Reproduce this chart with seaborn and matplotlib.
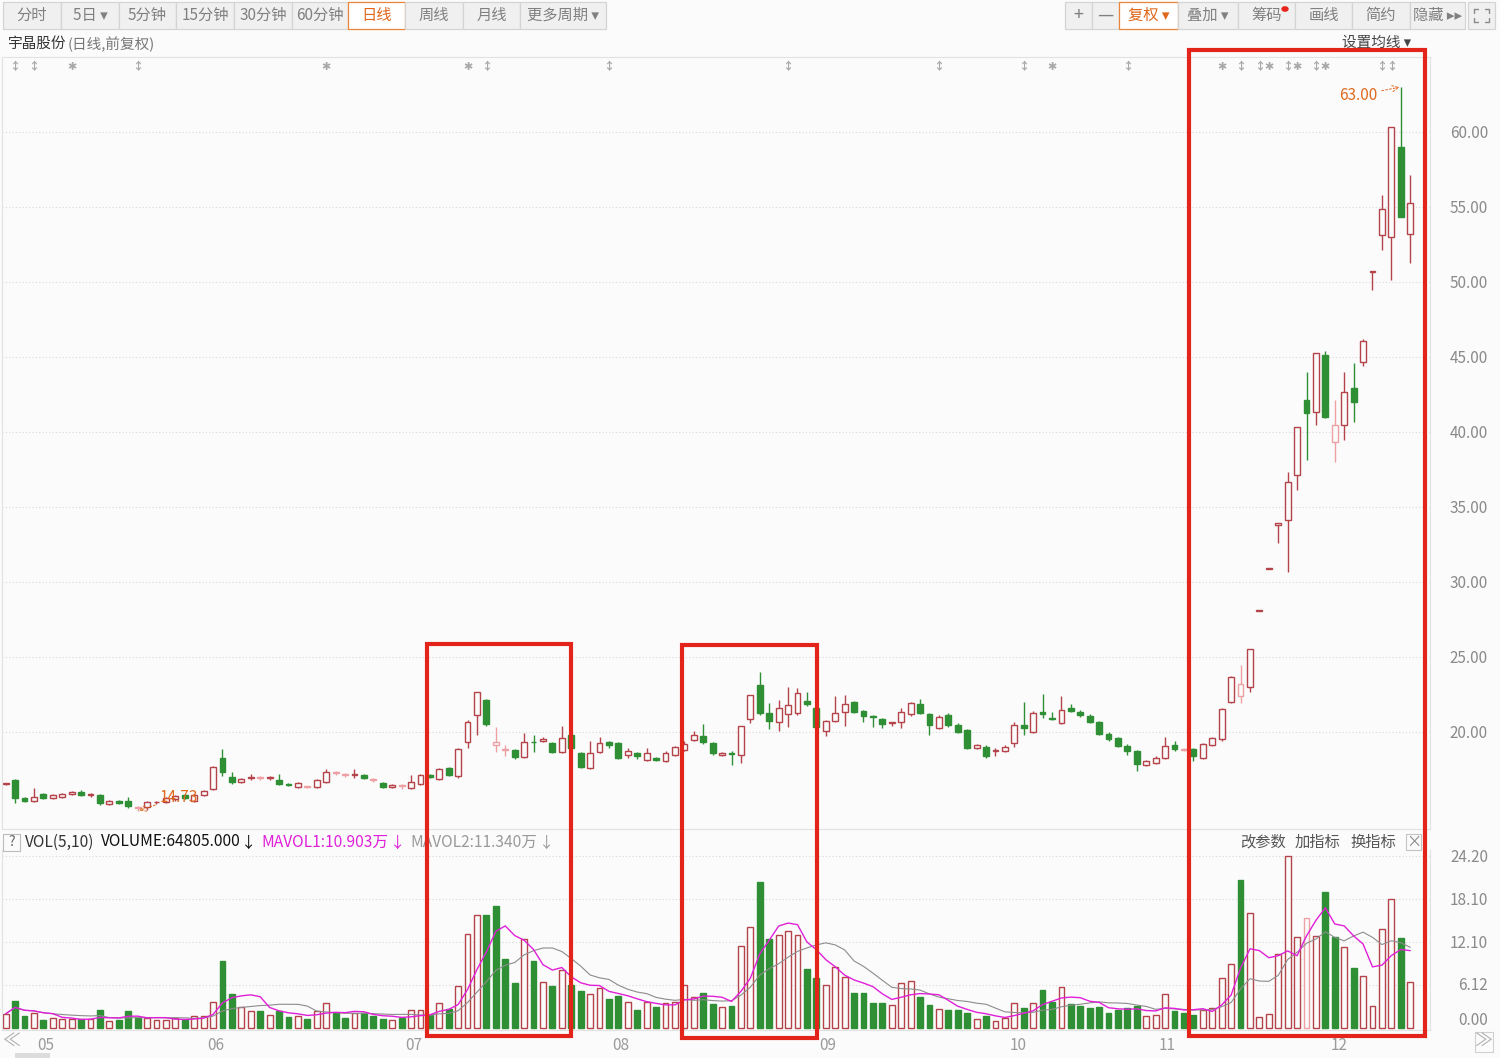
import numpy as np
import pandas as pd
import matplotlib
matplotlib.use("Agg")
import matplotlib.pyplot as plt
import matplotlib.transforms as mtrans
from matplotlib.patches import Rectangle
from matplotlib.lines import Line2D
import seaborn as sns

# ---------------- data (daily, 前复权) ----------------
opens = [16.53,16.8,15.6,15.4,15.87,15.6,15.67,15.87,16.0,15.8,
 15.8,15.2,15.4,15.4,14.9,15.0,15.3,15.33,15.5,15.8,
 15.4,15.8,16.2,18.27,17.0,16.67,16.9,16.93,16.9,16.8,
 16.5,16.33,16.33,16.33,16.67,17.27,17.13,17.1,17.13,16.8,
 16.6,16.33,16.4,16.27,16.53,17.13,16.87,17.6,17.07,19.33,
 21.13,22.13,19.13,18.8,18.8,18.33,19.35,19.4,19.27,18.67,
 19.8,18.6,17.6,18.67,19.33,19.27,18.47,18.6,18.13,18.27,
 18.07,18.47,18.8,19.47,19.73,19.27,18.47,18.62,18.47,20.87,
 23.13,21.27,20.67,21.2,21.27,22.07,21.6,20.07,20.73,21.33,
 22.0,21.4,21.07,20.87,20.6,20.67,21.2,21.87,21.2,20.27,
 21.13,20.47,20.13,18.93,19.0,18.73,18.73,19.27,20.47,20.0,
 21.3,20.93,20.6,21.6,21.33,21.07,20.67,19.87,19.6,19.07,
 18.73,17.8,17.93,18.27,19.13,18.8,18.87,18.27,19.13,19.53,
 22.0,22.4,23.0,28.07,30.87,33.8,34.13,37.13,42.13,41.33,
 45.13,39.33,40.47,42.93,44.67,50.68,53.13,53.0,59.0,53.2]
closes = [16.53,15.6,15.4,15.67,15.6,15.8,15.87,16.0,15.8,15.8,
 15.27,15.4,15.27,15.07,15.0,15.33,15.33,15.6,15.7,15.6,
 15.8,16.07,17.67,17.33,16.67,16.87,17.0,16.93,16.97,16.53,
 16.47,16.6,16.33,16.8,17.33,17.27,17.13,17.2,16.93,16.8,
 16.33,16.47,16.4,16.67,17.13,17.0,17.53,17.13,18.87,20.67,
 22.67,20.53,19.33,18.8,18.33,19.33,19.3,19.53,18.67,19.6,
 18.93,17.67,18.6,19.27,19.13,18.27,18.73,18.4,18.6,18.13,
 18.6,19.0,19.2,19.8,19.33,18.6,18.6,18.55,20.4,22.47,
 21.27,20.73,21.6,21.8,22.6,21.87,20.33,20.73,21.27,21.87,
 21.33,21.07,21.0,20.53,20.6,21.33,21.93,21.27,20.47,21.0,
 20.47,20.0,18.93,19.13,18.4,18.73,19.0,20.47,20.27,21.27,
 21.2,20.87,21.47,21.4,21.13,20.67,19.87,19.53,19.07,18.73,
 17.87,18.07,18.27,19.07,18.87,18.8,18.4,19.2,19.6,21.53,
 23.67,23.2,25.53,28.07,30.87,33.96,36.67,40.33,41.27,45.27,
 41.0,40.47,42.67,42.0,46.07,50.68,54.87,60.3,54.33,55.27]
highs = [16.6,16.85,15.67,16.27,15.93,15.87,15.93,16.07,16.13,15.93,
 15.87,15.47,15.47,15.67,15.07,15.4,15.4,15.67,15.8,15.87,
 15.87,16.13,17.73,18.87,17.33,16.93,17.2,17.07,17.07,17.2,
 16.6,16.67,16.4,16.87,17.53,17.4,17.27,17.53,17.2,16.93,
 16.67,16.53,16.53,17.1,17.2,17.2,17.6,17.67,18.93,20.8,
 22.67,22.2,20.33,19.13,18.87,19.93,19.8,19.67,19.33,20.4,
 20.0,18.67,19.4,19.67,19.4,19.33,18.93,18.67,18.93,18.33,
 18.73,19.07,19.4,20.07,20.5,19.33,18.67,18.7,20.4,22.47,
 24.0,21.93,22.13,23.0,22.93,22.67,21.67,20.8,22.4,22.47,
 22.07,21.47,21.13,20.93,20.67,21.6,22.0,22.2,21.27,21.13,
 21.27,20.6,20.2,19.2,19.13,18.93,19.13,20.67,22.0,21.4,
 22.5,21.35,22.4,21.87,21.47,21.2,20.73,20.0,19.67,19.2,
 18.8,18.13,18.4,19.67,19.4,18.93,18.93,19.27,19.67,21.6,
 23.73,24.47,25.53,28.07,30.87,33.96,37.3,40.33,44.0,45.27,
 45.4,42.13,44.0,44.58,46.2,50.68,55.8,60.3,63.0,57.13]
lows = [16.47,15.27,15.33,15.33,15.53,15.53,15.6,15.8,15.73,15.67,
 15.13,15.13,15.2,14.93,14.73,14.8,15.2,15.27,15.4,15.53,
 15.33,15.73,16.13,17.07,16.53,16.6,16.8,16.8,16.8,16.47,
 16.4,16.27,16.27,16.27,16.6,17.13,17.0,16.93,16.87,16.67,
 16.27,16.27,16.2,16.2,16.47,16.93,16.8,17.07,16.93,18.93,
 19.8,20.4,18.67,18.4,18.2,18.27,18.67,19.33,18.6,18.6,
 18.8,17.6,17.53,18.6,18.93,18.2,18.27,18.2,18.07,18.07,
 18.0,18.4,18.73,19.4,19.2,18.47,18.4,17.8,17.9,20.6,
 21.13,20.2,20.07,20.33,21.13,21.73,20.2,19.73,20.67,20.4,
 21.27,20.67,20.33,20.27,20.4,20.27,21.07,21.2,19.8,20.2,
 20.33,19.93,18.87,18.87,18.27,18.4,18.67,19.0,19.8,19.93,
 20.93,20.8,20.53,21.33,21.0,20.6,19.8,19.4,19.0,18.47,
 17.4,17.73,17.87,18.2,18.73,18.73,18.07,18.2,19.07,19.4,
 21.93,21.91,22.67,28.07,30.87,32.6,30.69,36.13,38.13,40.47,
 40.93,38.0,39.47,40.69,44.4,49.47,52.13,50.13,54.33,51.27]
volumes = [2.0,3.8,1.7,2.15,1.1,1.35,1.2,1.2,1.2,1.3,
 2.5,1.0,1.1,2.4,1.35,1.35,1.1,1.1,1.35,1.1,
 1.7,1.7,3.7,9.5,4.75,3.0,2.4,2.4,1.9,2.4,
 1.6,1.7,1.25,2.4,3.55,2.15,1.45,2.15,2.15,1.7,
 1.2,1.1,1.35,2.5,2.55,1.8,3.55,2.7,5.9,13.2,
 15.9,15.9,17.2,9.7,6.4,12.6,9.4,6.5,5.9,8.2,
 6.05,5.2,4.75,5.7,4.1,4.55,3.6,2.6,3.7,2.9,
 3.5,3.6,6.05,4.4,4.9,3.4,2.9,3.1,11.5,14.2,
 20.5,12.5,13.1,13.6,13.1,8.3,7.1,6.05,8.6,7.2,
 4.9,4.9,3.55,3.55,3.25,6.4,6.65,4.4,3.25,2.7,
 2.5,2.5,2.15,1.2,1.7,1.0,1.35,3.5,2.8,3.5,
 5.35,3.7,5.8,3.4,3.1,2.85,2.9,2.05,2.6,2.8,
 3.15,1.7,1.8,4.75,2.4,2.05,1.9,2.5,2.8,7.0,
 9.0,20.8,16.2,1.5,2.0,10.4,24.2,12.8,15.45,13.0,
 19.2,12.8,11.45,8.4,7.3,3.1,14.0,18.2,12.7,6.48]   # 万股

month_labels = ["05", "06", "07", "08", "09", "10", "11", "12"]
month_pos = [4.2, 22.3, 43.3, 65.3, 87.2, 107.4, 123.2, 141.4]
price_ticks = [20, 25, 30, 35, 40, 45, 50, 55, 60]
vol_ticks = [0.00, 6.12, 12.10, 18.10, 24.20]
max_idx, max_val = 148, 63.00
min_idx, min_val = 14, 14.73
marker_idx = [1, 3, 7, 14, 34, 49, 51, 64, 83, 99, 108, 111, 119, 129, 131, 133, 134, 136, 137, 139, 140, 146, 147]
marker_kind = ["a", "a", "s", "a", "s", "s", "a", "a", "a", "a", "a", "s", "a", "s", "a", "a", "s", "a", "s", "a", "s", "a", "a"]

# ---------------- style ----------------
sns.set_theme(style="white")
FAM = ["Noto Sans CJK SC", "DejaVu Sans"]
plt.rcParams["font.family"] = FAM
plt.rcParams["axes.unicode_minus"] = False

BG = "#fbfbfb"
RED = "#b5434a"
LIGHT = "#eea0a4"
GREEN = "#2f8f35"
MAG = "#e020d8"
GRAY_MA = "#8c8c8c"
ORANGE = "#e06a1e"
BOXRED = "#e3241b"

W, H = 1500, 1058
fig = plt.figure(figsize=(W / 100, H / 100), dpi=100)
fig.patch.set_facecolor(BG)


def rect_px(x0, y0, x1, y1):
    return [x0 / W, 1 - y1 / H, (x1 - x0) / W, (y1 - y0) / H]


def fx(x):
    return x / W


def fy(y):
    return 1 - y / H


O = np.array(opens)
C = np.array(closes)
Hh = np.array(highs)
L = np.array(lows)
V = np.array(volumes)
N = len(O)
idx = np.arange(N)
prev = np.r_[O[0], C[:-1]]

# candle colours
up = C >= O
light = up & (C < prev)
c_edge = np.where(up, np.where(light, LIGHT, RED), GREEN)
c_face = np.where(up, BG, GREEN)
# volume colours (vs previous close)
vup = C >= prev
vlight = vup & (C < O)
v_edge = np.where(vup, np.where(vlight, LIGHT, RED), GREEN)
v_face = np.where(vup, BG, GREEN)

XL = (-0.39, 151.1)

# ---------------- price panel ----------------
ax = fig.add_axes(rect_px(2, 57, 1430, 829))
ax.set_facecolor("none")
ax.vlines(idx, L, Hh, colors=c_edge, lw=1.0, zorder=1)
ax.bar(idx, np.maximum(np.abs(C - O), 0.04), bottom=np.minimum(O, C), width=0.62,
       color=c_face, edgecolor=c_edge, linewidth=1.0, zorder=2)
ax.set_xlim(*XL)
ax.set_ylim(13.53, 65.0)
ax.set_yticks(price_ticks)
ax.set_yticklabels([])
ax.set_xticks([])
ax.tick_params(length=0)
ax.grid(axis="y", color="#d9d9d9", ls=(0, (1, 2)), lw=0.8)
for s in ax.spines.values():
    s.set_color("#e2e2e2")
    s.set_linewidth(0.8)

tr_p = mtrans.blended_transform_factory(fig.transFigure, ax.transData)
for t in price_ticks:
    ax.text(fx(1488), t - 0.12, f"{t:.2f}", transform=tr_p, ha="right", va="center",
            fontsize=11, color="#8a8a8a")

# markers row
tr_m = mtrans.blended_transform_factory(ax.transData, fig.transFigure)
for i, k in zip(marker_idx, marker_kind):
    ax.text(i, fy(67), "↕" if k == "a" else "✱", transform=tr_m, ha="center",
            va="center", fontsize=8, color="#a8a8a8", fontweight="bold")

# max / min annotations
ax.annotate(f"{max_val:.2f}", xy=(max_idx, max_val), xytext=(-17, -6),
            textcoords="offset points", ha="right", va="center", fontsize=11,
            color=ORANGE,
            arrowprops=dict(arrowstyle="->", color=ORANGE, lw=0.7, ls=(0, (2, 2)),
                            shrinkA=1, shrinkB=1))
ax.annotate(f"{min_val:.2f}", xy=(min_idx, min_val), xytext=(16, 10),
            textcoords="offset points", ha="left", va="center", fontsize=11,
            color=ORANGE,
            arrowprops=dict(arrowstyle="->", color=ORANGE, lw=0.7, ls=(0, (2, 2)),
                            shrinkA=1, shrinkB=1))

# ---------------- volume panel ----------------
axv = fig.add_axes(rect_px(2, 850, 1430, 1030))
axv.set_facecolor("none")
axv.bar(idx, V, width=0.62, color=v_face, edgecolor=v_edge, linewidth=1.0, zorder=2)
ma5 = pd.Series(V).rolling(5, min_periods=1).mean()
ma10 = pd.Series(V).rolling(10, min_periods=1).mean()
sns.lineplot(x=idx, y=ma10.values, ax=axv, color=GRAY_MA, lw=0.8, zorder=3)
sns.lineplot(x=idx, y=ma5.values, ax=axv, color=MAG, lw=1.0, zorder=4)
axv.set_xlim(*XL)
axv.set_ylim(-0.28, 25.07)
axv.set_yticks(vol_ticks[1:])
axv.set_yticklabels([])
axv.set_xticks([])
axv.set_xlabel("")
axv.set_ylabel("")
axv.tick_params(length=0)
axv.grid(axis="y", color="#d9d9d9", ls=(0, (1, 2)), lw=0.8)
for s in axv.spines.values():
    s.set_color("#e2e2e2")
    s.set_linewidth(0.8)
axv.spines["top"].set_visible(False)

tr_v = mtrans.blended_transform_factory(fig.transFigure, axv.transData)
for t in vol_ticks:
    axv.text(fx(1488), t - 0.2, f"{t:.2f}", transform=tr_v, ha="right",
             va="bottom" if t == 0 else "center", fontsize=11, color="#8a8a8a")

tr_x = mtrans.blended_transform_factory(axv.transData, fig.transFigure)
for p, lab in zip(month_pos, month_labels):
    axv.text(p, fy(1045), lab, transform=tr_x, ha="center", va="center",
             fontsize=11, color="#9a9a9a")

# volume header
fig.add_artist(Rectangle((fx(3), fy(851)), 17 / W, 17 / H, transform=fig.transFigure,
                         fill=False, edgecolor="#bcbcbc", lw=0.8))
fig.text(fx(11.5), fy(842), "?", ha="center", va="center", fontsize=10, color="#666")
fig.text(fx(25), fy(842), "VOL(5,10)", ha="left", va="center", fontsize=11.2, color="#333")
fig.text(fx(101), fy(842), "VOLUME:64805.000", ha="left", va="center", fontsize=11.2, color="#111")
fig.text(fx(249), fy(843), "↓", ha="center", va="center", fontsize=11, color="#111")
fig.text(fx(261), fy(842), "MAVOL1:10.903万", ha="left", va="center", fontsize=11.2, color=MAG)
fig.text(fx(398), fy(843), "↓", ha="center", va="center", fontsize=11, color=MAG)
fig.text(fx(410), fy(842), "MAVOL2:11.340万", ha="left", va="center", fontsize=11.2, color="#9a9a9a")
fig.text(fx(547), fy(843), "↓", ha="center", va="center", fontsize=11, color="#9a9a9a")
for xx, lab in [(1240, "改参数"), (1295, "加指标"), (1350, "换指标")]:
    fig.text(fx(xx), fy(842), lab, ha="left", va="center", fontsize=11, color="#555")
fig.add_artist(Rectangle((fx(1406), fy(850)), 15 / W, 16 / H, transform=fig.transFigure,
                         fill=False, edgecolor="#c4c4c4", lw=0.8))
fig.text(fx(1413.5), fy(842), "×", ha="center", va="center", fontsize=11, color="#888")

# ---------------- toolbar & titles ----------------
left_btns = [("分时", 3, 61), ("5日 ▾", 61, 119), ("5分钟", 119, 176), ("15分钟", 176, 234),
             ("30分钟", 234, 292), ("60分钟", 292, 348), ("日线", 348, 405), ("周线", 405, 463),
             ("月线", 463, 520), ("更多周期 ▾", 520, 606)]
right_btns = [("+", 1065, 1092), ("—", 1092, 1119), ("复权 ▾", 1119, 1178), ("叠加 ▾", 1178, 1238),
              ("筹码", 1238, 1295), ("画线", 1295, 1352), ("简约", 1352, 1410), ("隐藏 ▸▸", 1410, 1465),
              ("", 1468, 1495)]
selected = {"日线", "复权 ▾"}
for lab, x0, x1 in left_btns + right_btns:
    sel = lab in selected
    fig.add_artist(Rectangle((fx(x0), fy(29)), (x1 - x0) / W, 27 / H, transform=fig.transFigure,
                             facecolor="#ffffff" if sel else "#f0f0f0",
                             edgecolor="#e8853a" if sel else "#d4d4d4", lw=0.9, zorder=1))
    if lab:
        fig.text(fx((x0 + x1) / 2), fy(15.5), lab, ha="center", va="center",
                 fontsize=13 if lab in ("+", "—") else 11,
                 color="#e0661a" if sel else "#808080", zorder=2)
fig.add_artist(plt.Circle((fx(1285), fy(9)), 3 / W, transform=fig.transFigure,
                          color="#e8231b", zorder=3))
# full-screen icon
for (xa, ya, xb, yb) in [(1474, 9, 1478, 9), (1474, 9, 1474, 13), (1489, 9, 1485, 9), (1489, 9, 1489, 13),
                         (1474, 22, 1478, 22), (1474, 22, 1474, 18), (1489, 22, 1485, 22), (1489, 22, 1489, 18)]:
    fig.add_artist(Line2D([fx(xa), fx(xb)], [fy(ya), fy(yb)], transform=fig.transFigure,
                          color="#8a8a8a", lw=1))

fig.text(fx(8), fy(44), "宇晶股份", ha="left", va="center", fontsize=10.5, color="#333")
fig.text(fx(68), fy(44), "(日线,前复权)", ha="left", va="center", fontsize=10.5, color="#777")
fig.text(fx(1342), fy(43), "设置均线 ▾", ha="left", va="center", fontsize=10.5, color="#444")

fig.text(fx(11), fy(1042), "≪", ha="center", va="center", fontsize=13, color="#b0b0b0")
fig.add_artist(Rectangle((fx(1475), fy(1052)), 18 / W, 20 / H, transform=fig.transFigure,
                         fill=False, edgecolor="#d0d0d0", lw=0.8))
fig.text(fx(1484), fy(1042), "≫", ha="center", va="center", fontsize=13, color="#b0b0b0")
fig.add_artist(Rectangle((fx(15), fy(1058)), 35 / W, 5 / H, transform=fig.transFigure,
                         facecolor="#dcdcdc", edgecolor="none"))

# ---------------- highlight boxes ----------------
for x0, y0, x1, y1 in [(427, 644, 571, 1036), (682, 645, 817, 1038), (1189, 50, 1425, 1036)]:
    fig.add_artist(Rectangle((fx(x0), fy(y1)), (x1 - x0) / W, (y1 - y0) / H,
                             transform=fig.transFigure, fill=False, edgecolor=BOXRED,
                             lw=3, zorder=10))

fig.savefig("out.png", dpi=100, facecolor=BG)
